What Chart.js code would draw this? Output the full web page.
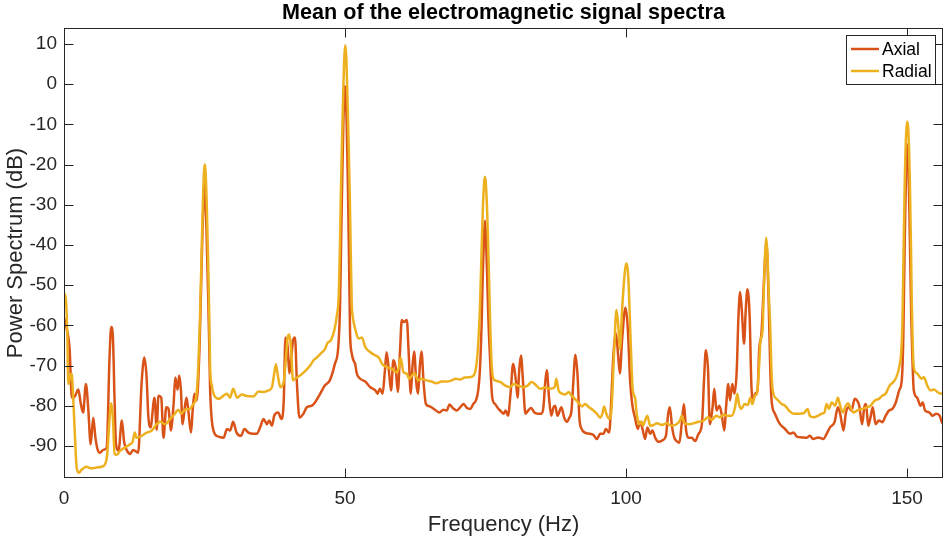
<!DOCTYPE html>
<html>
<head>
<meta charset="utf-8">
<title>Mean of the electromagnetic signal spectra</title>
<script src="https://cdn.jsdelivr.net/npm/chart.js@4.4.0/dist/chart.umd.min.js"></script>
<style>
  html, body { margin: 0; padding: 0; background: #fff; }
  #spectrum { display: block; }
</style>
</head>
<body>
<canvas id="spectrum" width="944" height="538"></canvas>
<script>
// averaged spectra, frequency in Hz and power in dB
const seriesNames = ['Axial', 'Radial'];
const seriesColors = ['#D95319', '#EDB120'];

const axialFreq = [
  0, 0.5, 1.0, 1.4, 1.7, 2.0, 2.55, 3.0, 3.4, 3.9, 4.3, 4.75, 5.2, 5.6, 6.0, 6.4, 7.0, 7.6,
  8.1, 8.4, 8.7, 9.0, 9.25, 9.7, 10.3, 10.7, 11.15, 11.75, 12.3, 13.2, 13.8, 14.3, 14.7, 15.0,
  15.4, 16.1, 16.5, 16.8, 17.3, 17.7, 18.2, 18.6, 19.0, 19.5, 19.8, 20.2, 20.5, 20.8, 21.1,
  21.5, 21.8, 22.1, 22.6, 22.9, 23.2, 23.6, 24.1, 24.4, 24.65, 24.85, 25.0, 25.15, 25.35, 25.6,
  25.8, 26.0, 26.6, 27.5, 28.4, 29.0, 29.55, 30.1, 30.7, 31.5, 32.1, 32.8, 33.7, 34.3, 34.9,
  35.5, 36.1, 36.5, 37.0, 37.4, 38.1, 38.7, 39.1, 39.4, 39.8, 40.1, 40.4, 40.75, 41.1, 41.45,
  41.9, 42.6, 43.2, 44.1, 44.65, 45.6, 46.4, 47.3, 48.2, 48.8, 49.1, 49.3, 49.5, 49.7, 49.9,
  50.0, 50.1, 50.3, 50.5, 50.7, 50.9, 51.2, 51.5, 51.8, 52.1, 52.7, 53.6, 54.5, 55.4, 55.8,
  56.2, 56.7, 57.1, 57.4, 57.8, 58.2, 58.6, 59.0, 59.4, 59.8, 60.1, 60.5, 61.0, 61.3, 61.7,
  62.0, 62.3, 62.7, 63.0, 63.3, 63.6, 64.0, 64.4, 65.1, 66.0, 66.8, 67.5, 68.1, 68.6, 69.2,
  69.9, 70.5, 71.1, 71.7, 72.3, 72.8, 73.3, 73.7, 74.0, 74.3, 74.5, 74.75, 74.9, 75.05, 75.3,
  75.5, 75.8, 76.2, 76.7, 77.3, 77.6, 78.2, 78.6, 79.0, 79.5, 79.9, 80.4, 80.7, 81.0, 81.3,
  81.7, 82.1, 82.6, 83.1, 83.7, 84.3, 84.9, 85.3, 85.6, 85.9, 86.3, 86.7, 87.1, 87.4, 87.8,
  88.5, 89.0, 89.5, 89.9, 90.3, 90.6, 91.0, 91.4, 91.7, 92.1, 92.7, 93.6, 94.2, 94.8, 95.4,
  96.0, 96.4, 97.0, 97.4, 97.7, 98.2, 98.6, 98.9, 99.3, 99.9, 100.3, 100.7, 101.1, 101.6,
  102.1, 102.5, 103.0, 103.4, 103.8, 104.3, 104.7, 105.2, 105.8, 106.5, 107.1, 107.5, 107.8,
  108.2, 108.6, 109.0, 109.5, 109.9, 110.3, 110.7, 111.1, 111.7, 112.3, 112.9, 113.5, 113.9,
  114.2, 114.6, 114.9, 115.4, 115.7, 116.1, 116.6, 117.0, 117.5, 117.8, 118.2, 118.5, 118.9,
  119.3, 119.7, 120.0, 120.3, 120.6, 121.0, 121.3, 121.6, 122.0, 122.3, 122.6, 123.0, 123.4,
  123.7, 124.1, 124.45, 124.75, 124.95, 125.15, 125.4, 125.65, 125.9, 126.5, 127.4, 128.3,
  129.2, 129.8, 130.4, 131.3, 132.1, 132.7, 133.3, 134.2, 135.1, 135.7, 136.3, 137.1, 137.7,
  138.1, 138.7, 139.1, 139.6, 140.1, 140.7, 141.1, 141.5, 142.0, 142.4, 142.7, 143.1, 143.5,
  143.9, 144.4, 145.0, 145.6, 146.2, 146.8, 147.4, 148.0, 148.6, 149.1, 149.35, 149.6, 149.85,
  150.05, 150.25, 150.5, 150.75, 150.95, 151.2, 151.8, 152.4, 152.8, 153.2, 154.0, 154.5,
  155.2, 155.8, 156.2, 156.6
];
const axialDb = [
  -58, -61, -66, -78, -78, -77.5, -76, -79.6, -81.7, -74.6, -80.4, -89.6, -83, -88, -91, -91.7, -91, -90.4,
  -68, -60.4, -63, -78.7, -89.6, -91.2, -83.7, -89, -91, -92, -91, -91.7, -74.6, -68, -73, -82.5,
  -85.4, -78, -86, -77.5, -78, -88, -80.4, -80.8, -86.2, -79.6, -73, -76, -72.5, -76, -84.6,
  -80.4, -78, -81, -86.7, -81, -77, -78.7, -66, -50, -36, -28, -25, -28, -36, -50,
  -62, -76, -86.2, -87.7, -88, -85.8, -86.2, -84, -86.7, -87.5, -85.8, -86.7, -87, -87, -85.4,
  -83.3, -84.6, -83.7, -85, -82.5, -81.7, -83.3, -78.7, -63, -65.4, -72, -68.7, -63.75, -63, -74.6,
  -83, -82, -80.4, -80, -79.2, -77, -75, -73.7, -69.6, -65.4, -56, -40, -24, -10, -2,
  -0.5, -2, -10, -24, -42, -62, -67, -68.7, -69.6, -72, -73.3, -74, -75.4, -76.2, -77,
  -75.8, -77, -71.2, -66.7, -71.2, -76.2, -68.7, -70.4, -76.6, -66, -58.7, -59.2, -58.7, -66, -77,
  -70.4, -66.5, -74.6, -77, -70.4, -66.5, -74.6, -79.6, -80.2, -81, -81.7, -81, -81.2, -79.7, -80.6,
  -81.2, -80.4, -79.6, -80.6, -80.8, -79.6, -78.7, -76.2, -71.2, -60, -48, -37, -34, -37, -48,
  -58, -68, -78, -79.6, -80.8, -81.2, -82, -81.2, -82.5, -76.2, -69.6, -73.7, -78, -71.2, -67.5,
  -74.6, -82, -81.2, -80.6, -81.7, -82, -82, -80.4, -74.6, -71.2, -78, -82.5, -80.4, -80, -82.5,
  -80.4, -83, -84, -83, -81.2, -74.6, -67.3, -73, -83, -85.8, -86.7, -87, -87.3, -88.3, -87,
  -87, -85.8, -86.7, -78, -68.7, -62, -67.5, -72, -63.7, -55.6, -60.4, -73, -79.6, -83,
  -85.8, -84, -86.2, -88.3, -85.4, -87, -86.2, -88, -89, -88.6, -87.5, -82, -80.4,
  -85.4, -88, -88.8, -89.2, -84.6, -79.6, -86.2, -88, -88, -88.8, -87, -84.6, -73,
  -66.2, -71.2, -84.6, -80.4, -75.8, -81.2, -80, -82, -86.2, -80.4, -74.6, -78.7, -74.6,
  -77, -71.2, -58, -51.7, -56.2, -64.6, -56.2, -51, -58, -74.6, -78.7, -77, -76.2,
  -66, -62, -52, -43, -39.5, -43, -55, -70, -78.7, -82, -84.6, -85.8,
  -87, -86.7, -87.7, -87.9, -88, -87.5, -88.3, -87.9, -88.3, -87, -85.4, -84.1, -80.4,
  -82, -86.2, -82, -80.4, -81.2, -78.3, -78.7, -80, -84.6, -80.4, -79.6, -85, -82.9,
  -80.4, -84.6, -83.7, -84.1, -82.5, -81.2, -80.8, -79.2, -76.2, -73, -62, -38, -20,
  -15, -20, -38, -58, -68, -76.2, -78, -80, -79.2, -81.2, -81.7, -82.5,
  -82, -82.5, -84.1, -84.6
];

const radialFreq = [
  0, 0.35, 0.6, 0.77, 1.07, 1.36, 1.66, 1.96, 2.25, 2.67, 3.1, 4.0, 4.9, 5.8, 6.7, 7.3, 7.7,
  8.0, 8.4, 8.7, 9.0, 9.4, 10.0, 10.85, 11.75, 12.2, 12.6, 12.9, 13.8, 14.7, 15.6, 16.5, 17.1,
  18.0, 18.9, 19.75, 20.3, 20.9, 21.5, 22.4, 23.0, 23.5, 23.9, 24.2, 24.45, 24.7, 24.9, 25.05,
  25.2, 25.4, 25.65, 25.85, 26.0, 26.3, 26.6, 27.5, 28.4, 29.0, 29.55, 30.1, 30.8, 31.6, 32.5,
  33.7, 34.6, 35.5, 36.4, 37.0, 37.4, 37.7, 38.1, 38.5, 39.1, 39.5, 39.8, 40.1, 40.4, 40.75,
  41.1, 42.0, 42.9, 43.8, 44.4, 45.0, 45.7, 46.4, 46.9, 47.5, 48.1, 48.5, 48.9, 49.1, 49.25,
  49.45, 49.65, 49.85, 50.05, 50.25, 50.45, 50.65, 50.85, 51.0, 51.2, 51.4, 51.8, 52.4, 53.0,
  53.6, 54.5, 55.4, 56.0, 56.6, 57.4, 58.3, 59.2, 59.6, 59.9, 60.4, 61.0, 61.4, 61.9, 62.4,
  63.0, 63.6, 64.5, 65.4, 66.3, 67.2, 68.1, 69.0, 69.7, 70.5, 71.3, 72.2, 72.9, 73.4, 73.7,
  74.0, 74.25, 74.5, 74.75, 74.9, 75.05, 75.3, 75.55, 75.8, 76.1, 76.4, 76.7, 77.3, 77.6, 78.5,
  79.4, 80.0, 80.8, 81.7, 82.5, 83.2, 83.9, 84.7, 85.6, 86.5, 87.3, 87.6, 88.0, 88.6, 89.2,
  89.8, 90.3, 90.9, 91.5, 92.2, 92.7, 93.4, 94.2, 94.8, 95.4, 95.8, 96.1, 96.5, 97.0, 97.4,
  97.9, 98.3, 98.6, 98.9, 99.3, 99.7, 100.0, 100.4, 100.8, 101.2, 101.6, 101.9, 102.3, 102.8,
  103.0, 103.4, 103.8, 104.3, 104.9, 105.5, 106.4, 107.2, 108.1, 109.0, 109.6, 109.9, 110.3,
  111.1, 112.0, 112.9, 113.8, 114.6, 115.3, 116.0, 116.8, 117.3, 118.0, 118.8, 119.4, 119.8,
  120.1, 120.5, 121.1, 121.7, 122.1, 122.5, 122.9, 123.3, 123.7, 123.9, 124.3, 124.5, 124.75,
  124.95, 125.15, 125.4, 125.65, 125.85, 126.1, 126.8, 127.7, 128.3, 129.0, 129.8, 130.7,
  131.6, 132.3, 132.7, 133.3, 134.2, 134.8, 135.3, 135.7, 136.1, 136.6, 137.2, 137.7, 138.1,
  138.6, 139.0, 139.5, 139.9, 140.5, 141.1, 142.0, 142.9, 143.5, 144.3, 145.0, 145.6, 146.2,
  146.9, 147.5, 148.1, 148.6, 149.0, 149.2, 149.4, 149.6, 149.85, 150.05, 150.25, 150.5,
  150.7, 150.85, 151.0, 151.2, 151.8, 152.6, 153.0, 153.6, 154.2, 154.8, 155.4, 156.0, 156.6
];
const radialDb = [
  -52, -53.7, -63, -74.6, -73, -72, -78.7, -88, -95.4, -96.7, -96, -95.2, -95.6, -95.4, -95.2, -94.6, -92,
  -85.4, -79.4, -83, -92, -92.2, -91.2, -90.4, -89.6, -89, -86.7, -88, -87.5, -86.7, -86.2, -84.6, -84,
  -84.6, -83.3, -82, -81, -82, -81, -80.8, -79.6, -78, -70, -58, -44, -30, -22, -20,
  -22, -30, -44, -58, -70.4, -75, -77, -78.3, -77.5, -77, -78, -75.8, -78, -77.2, -77.6,
  -77.7, -76.5, -76.6, -76.2, -75.4, -72, -69.7, -73, -75.4, -74, -68, -63, -62.3, -66, -73.7,
  -73.3, -72.5, -71.4, -70, -68.7, -68, -67, -66, -64.4, -63.7, -61.2, -58, -52, -40, -28,
  -15, -4, 6, 9.7, 6, -4, -15, -28, -40, -54.6, -58, -60.8, -63.3, -63,
  -65.4, -66.7, -67.5, -68, -69.6, -70.4, -70.8, -71.7, -70.4, -68, -71.7, -72, -73.3, -72.5, -71.9,
  -73.7, -73.3, -73.7, -74, -74.4, -74, -74, -73.7, -73.3, -73.5, -73, -72.9, -72.5, -69.6, -64.6,
  -56, -44, -32, -24.5, -23, -24.5, -32, -44, -58, -70, -73.3, -73.7, -74, -74.1, -75,
  -75.4, -74.6, -75, -75.4, -75, -74.1, -74.8, -75.8, -75.5, -75.8, -75.4, -73.3, -76.2, -77, -77.2,
  -76.6, -77.5, -78.3, -79.2, -80.2, -79.6, -80.4, -81.2, -82, -83, -82, -80.2, -82, -83.3, -81.2,
  -66, -56.2, -59.6, -66, -56.2, -48, -44.6, -48, -63, -76.2, -78, -82, -84.6, -84,
  -85, -83.7, -82.5, -85, -84.8, -84.4, -84.8, -84.4, -85, -84.6, -83.7, -82.5, -84.1,
  -84.6, -84.4, -84, -83.7, -82.9, -83.5, -82.5, -82.9, -82.2, -82.5, -82.5, -80.4, -77,
  -79.6, -80.8, -79.6, -79.8, -78, -79.6, -77.5, -77, -69.6, -64.2, -61, -52, -42,
  -38.2, -42, -52, -60, -70, -76.2, -78.3, -79.6, -80, -81.2, -82, -82,
  -81.9, -80.8, -82.5, -82.9, -82.5, -82, -81.7, -79.6, -80.8, -79.2, -80, -78, -80,
  -81.7, -80.4, -79.4, -80.4, -81.7, -81.2, -80.8, -80.4, -80, -78.7, -78.3, -77.5, -77,
  -75, -74.2, -72.9, -70.4, -66, -58, -40, -24, -12, -9.3, -12, -24,
  -40, -55, -64, -70.4, -72, -73.3, -72.9, -75, -76.2, -76, -76.6, -77, -76.8
];

const xTicks = [0, 50, 100, 150];
const yTicks = [-90, -80, -70, -60, -50, -40, -30, -20, -10, 0, 10];
const xRange = [0, 156.4];
const yRange = [-98, 14];

const fontFamily = '"Liberation Sans", Arial, Helvetica, sans-serif';
const axisColor = '#262626';

function toPoints(freq, db) {
  return freq.map(function (f, i) { return { x: f, y: db[i] }; });
}

// box, inward ticks on all four sides, title and the boxed legend
const framePlugin = {
  id: 'frame',
  afterDraw(chart) {
    const ctx = chart.ctx;
    const area = chart.chartArea;
    const xs = chart.scales.x;
    const ys = chart.scales.y;
    const L = Math.round(area.left) + 0.5;
    const R = Math.round(area.right) - 0.5;
    const T = Math.round(area.top) + 0.5;
    const B = Math.round(area.bottom) - 0.5;
    const tick = 9;

    ctx.save();
    ctx.strokeStyle = axisColor;
    ctx.lineWidth = 1;
    ctx.strokeRect(L, T, R - L, B - T);
    ctx.beginPath();
    xTicks.forEach(function (v) {
      const px = Math.round(xs.getPixelForValue(v)) + 0.5;
      ctx.moveTo(px, B); ctx.lineTo(px, B - tick);
      ctx.moveTo(px, T); ctx.lineTo(px, T + tick);
    });
    yTicks.forEach(function (v) {
      const py = Math.round(ys.getPixelForValue(v)) + 0.5;
      ctx.moveTo(L, py); ctx.lineTo(L + tick, py);
      ctx.moveTo(R, py); ctx.lineTo(R - tick, py);
    });
    ctx.stroke();

    // title
    ctx.fillStyle = '#000';
    ctx.font = 'bold 21.6px ' + fontFamily;
    ctx.textAlign = 'center';
    ctx.textBaseline = 'middle';
    ctx.fillText('Mean of the electromagnetic signal spectra', (area.left + area.right) / 2, 13);

    // legend
    const box = { left: 846.5, top: 35.5, width: 89, height: 49 };
    ctx.fillStyle = '#fff';
    ctx.fillRect(box.left, box.top, box.width, box.height);
    ctx.strokeStyle = axisColor;
    ctx.strokeRect(box.left, box.top, box.width, box.height);
    ctx.font = '17.5px ' + fontFamily;
    ctx.textAlign = 'left';
    seriesNames.forEach(function (name, i) {
      const rowY = 49 + i * 22;
      ctx.strokeStyle = seriesColors[i];
      ctx.lineWidth = 2.5;
      ctx.beginPath();
      ctx.moveTo(851, rowY);
      ctx.lineTo(879, rowY);
      ctx.stroke();
      ctx.fillStyle = '#000';
      ctx.fillText(name, 882, rowY + 1);
    });
    ctx.restore();
  }
};

document.addEventListener("DOMContentLoaded", function () {
  const ctx = document.getElementById('spectrum');

  new Chart(ctx, {
    type: 'line',
    data: {
      datasets: [{
        label: seriesNames[0],
        data: toPoints(axialFreq, axialDb),
        borderColor: seriesColors[0],
        borderWidth: 2.5,
        pointRadius: 0,
        cubicInterpolationMode: 'monotone',
        order: 1
      }, {
        label: seriesNames[1],
        data: toPoints(radialFreq, radialDb),
        borderColor: seriesColors[1],
        borderWidth: 2.5,
        pointRadius: 0,
        cubicInterpolationMode: 'monotone',
        order: 0
      }]
    },
    options: {
      responsive: false,
      animation: false,
      devicePixelRatio: 1,
      layout: { padding: { top: 28, right: 1, bottom: 0, left: 0 } },
      plugins: {
        legend: { display: false },
        tooltip: { enabled: false },
        title: { display: false }
      },
      scales: {
        x: {
          type: 'linear',
          min: xRange[0],
          max: xRange[1],
          afterFit: function (scale) { scale.height = 60; },
          afterBuildTicks: function (scale) { scale.ticks = xTicks.map(function (v) { return { value: v }; }); },
          grid: { display: false, drawTicks: false },
          border: { display: false },
          ticks: { color: axisColor, padding: 9, maxRotation: 0, font: { family: fontFamily, size: 19 } },
          title: {
            display: true,
            text: 'Frequency (Hz)',
            color: axisColor,
            font: { family: fontFamily, size: 22 },
            padding: { top: 0, bottom: 0 }
          }
        },
        y: {
          type: 'linear',
          min: yRange[0],
          max: yRange[1],
          afterFit: function (scale) { scale.width = 64; },
          afterBuildTicks: function (scale) { scale.ticks = yTicks.map(function (v) { return { value: v }; }); },
          grid: { display: false, drawTicks: false },
          border: { display: false },
          ticks: { color: axisColor, padding: 7, font: { family: fontFamily, size: 19 } },
          title: {
            display: true,
            text: 'Power Spectrum (dB)',
            color: axisColor,
            font: { family: fontFamily, size: 22 },
            padding: { top: 3, bottom: 0 }
          }
        }
      }
    },
    plugins: [framePlugin]
  });
});
</script>
</body>
</html>
